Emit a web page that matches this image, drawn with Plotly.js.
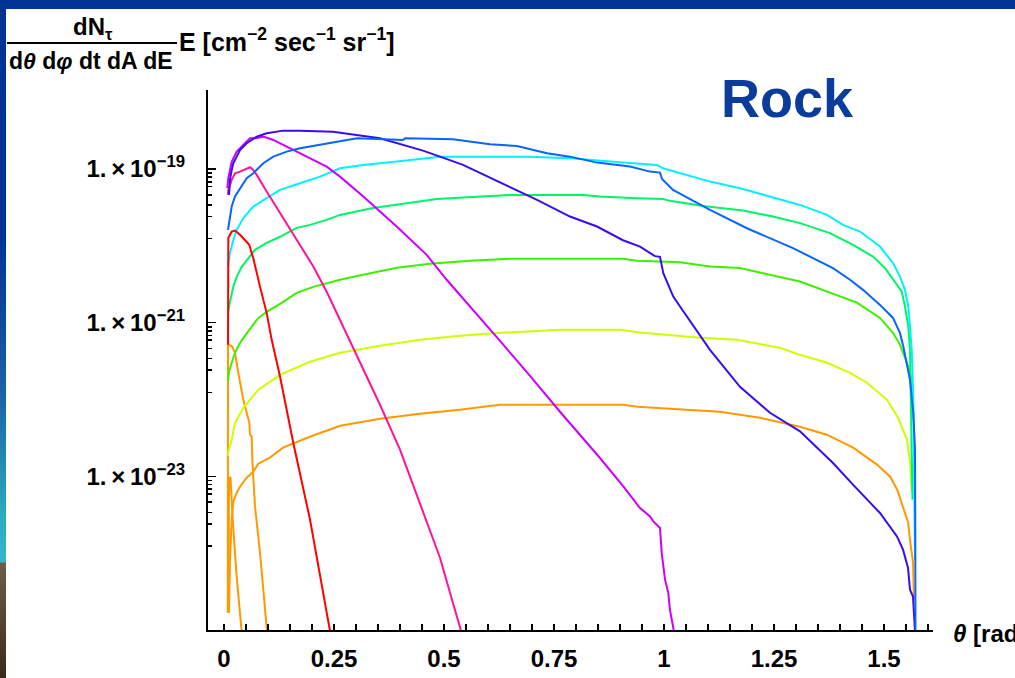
<!DOCTYPE html>
<html>
<head>
<meta charset="utf-8">
<script src="https://cdn.plot.ly/plotly-3.0.1.min.js"></script>
<style>
  html, body { margin: 0; padding: 0; background: #fff; overflow: hidden; }
  #frame { position: relative; width: 1015px; height: 678px; }
  #chart { position: absolute; left: 0; top: 0; width: 1015px; height: 678px; }
  .bar-top { position: absolute; left: 0; top: 0; width: 1015px; height: 9px; background: #003393; z-index: 5; }
  .bar-left { position: absolute; left: 0; top: 0; width: 6px; height: 678px; z-index: 5;
    background: linear-gradient(to bottom, #003393 0px, #003595 240px, #1a64aa 400px, #2aaec2 520px, #30b8c8 562px, #6e5e48 563px, #3a2a18 678px); }
</style>
</head>
<body>
<div id="frame">
  <div id="chart"></div>
  <div class="bar-top"></div>
  <div class="bar-left"></div>
</div>
<script>
// Tau flux through rock versus nadir angle, one curve per energy.
const thetaRed = [0.0091,0.0095,0.0098,0.0175,0.025,0.0364,0.0575,0.0607,0.0666,0.0818,0.097,0.1084,0.1273,0.1575,0.1955,0.2409];
const fluxRed  = [5.14e-22,3.61e-21,1.26e-20,1.53e-20,1.58e-20,1.39e-20,1.03e-20,8.85e-21,6.9e-21,2.94e-21,1.33e-21,5.97e-22,1.99e-22,2.71e-23,2.73e-24,9.7e-26];

const thetaPink = [0.0091,0.0098,0.0175,0.025,0.0364,0.0516,0.0591,0.0652,0.0743,0.097,0.1273,0.1652,0.203,0.2334,0.2636,0.3091,0.3545,0.4,0.4455,0.4909,0.5182,0.5386];
const fluxPink  = [4.59e-20,5.33e-20,7.19e-20,8.79e-20,9.23e-20,1.02e-19,1.052e-19,9.91e-20,8.36e-20,5.07e-20,2.65e-20,1.19e-20,5.37e-21,2.52e-21,1.09e-21,3.09e-22,8.53e-23,2.22e-23,4.28e-24,8.73e-25,2.48e-25,9.8e-26];

const thetaViolet = [0.0075,0.0098,0.0175,0.0289,0.0439,0.0591,0.0705,0.0893,0.1121,0.1425,0.188,0.2334,0.2636,0.3166,0.3925,0.4607,0.5061,0.5666,0.6273,0.6955,0.7636,0.8545,0.9075,0.9455,0.9682,0.9757,0.987,0.9909,0.9948,1.0023,1.0098,1.0136,1.0227];
const fluxViolet  = [5.61e-20,7.57e-20,1.233e-19,1.679e-19,2.051e-19,2.506e-19,2.506e-19,2.63e-19,2.382e-19,1.95e-19,1.445e-19,1.072e-19,7.94e-20,4.37e-20,1.78e-20,7.62e-21,3.61e-21,1.47e-21,5.79e-22,2.03e-22,6.92e-23,1.73e-23,7.4e-24,3.87e-24,3.01e-24,2.59e-24,2.23e-24,2.13e-24,1.01e-24,4.52e-25,3.03e-25,1.82e-25,9.5e-26];

const thetaIndigo = [0.0114,0.0136,0.0175,0.0211,0.0289,0.0364,0.0516,0.0743,0.097,0.1348,0.1727,0.2477,0.3545,0.4523,0.4909,0.5432,0.65,0.7114,0.7864,0.8477,0.9068,0.9455,0.9795,0.9909,0.9984,1.0211,1.0364,1.1045,1.1727,1.2409,1.3091,1.3841,1.4295,1.4909,1.5295,1.5432,1.5545,1.5591,1.5659,1.5689,1.5705];
const fluxIndigo  = [4.59e-20,7.19e-20,9.71e-20,1.186e-19,1.445e-19,1.766e-19,2.158e-19,2.63e-19,2.91e-19,3.15e-19,3.15e-19,3.05e-19,2.506e-19,1.73e-19,1.445e-19,1.127e-19,5.78e-20,3.95e-20,2.4e-20,1.78e-20,1.18e-20,9.77e-21,7.33e-21,7.18e-21,4.41e-21,2.18e-21,1.62e-21,4.43e-22,1.46e-22,6.71e-23,3.84e-23,1.49e-23,7.78e-24,3.33e-24,1.65e-24,1.11e-24,6.47e-25,3.35e-25,2.72e-25,1.36e-25,9.5e-26];

const thetaBlue = [0.0091,0.0136,0.0175,0.025,0.0364,0.0516,0.0666,0.0893,0.1121,0.1425,0.1727,0.2182,0.2636,0.3023,0.4068,0.4114,0.5205,0.6045,0.6659,0.7341,0.7864,0.8477,0.9227,0.9682,0.9909,0.9955,1.0205,1.1045,1.1886,1.2932,1.3841,1.4227,1.4523,1.4909,1.5205,1.5364,1.5439,1.5591,1.5666,1.5705,1.5711,1.5716];
const fluxBlue  = [1.61e-20,2.4e-20,3.24e-20,4.37e-20,5.61e-20,7.57e-20,8.79e-20,1.186e-19,1.445e-19,1.679e-19,1.858e-19,2.051e-19,2.265e-19,2.506e-19,2.382e-19,2.506e-19,2.432e-19,2.094e-19,1.99e-19,1.6e-19,1.445e-19,1.208e-19,1.072e-19,9.23e-20,8.95e-20,7.41e-20,5.33e-20,2.93e-20,1.69e-20,9.31e-21,5.12e-21,3.61e-21,2.67e-21,1.7e-21,1.15e-21,7.29e-22,4.89e-22,1.8e-22,6.71e-23,2.22e-23,1.5e-24,9e-26];

const thetaCyan = [0.0091,0.0136,0.0211,0.0289,0.0439,0.0666,0.097,0.1273,0.1727,0.2182,0.2636,0.3159,0.3932,0.4682,0.4909,0.6955,0.7864,0.9068,0.9841,0.9977,1.0523,1.1045,1.1727,1.2568,1.3091,1.3705,1.4068,1.4455,1.4909,1.5205,1.5364,1.5477,1.5552,1.5591,1.563,1.5666,1.5693,1.5705];
const fluxCyan  = [5.32e-21,8.09e-21,1.19e-20,1.61e-20,2.29e-20,3.24e-20,4.16e-20,5.33e-20,6.52e-20,7.94e-20,1.02e-19,1.127e-19,1.245e-19,1.377e-19,1.445e-19,1.445e-19,1.377e-19,1.208e-19,1.127e-19,1.02e-19,8.36e-20,6.84e-20,5.61e-20,4.16e-20,3.4e-20,2.52e-20,1.87e-20,1.53e-20,9.77e-21,5.94e-21,3.97e-21,2.67e-21,1.62e-21,8.89e-22,4.43e-22,9.9e-23,9.04e-24,8.22e-25];

const thetaSpring = [0.0098,0.0136,0.0211,0.0289,0.0402,0.0591,0.0705,0.097,0.1273,0.1652,0.1955,0.2334,0.2636,0.3386,0.4841,0.575,0.6545,0.8159,0.8545,0.9386,0.9977,1.0136,1.0886,1.1795,1.2477,1.3091,1.3773,1.4295,1.475,1.5023,1.5205,1.5402,1.5477,1.5552,1.5591,1.5625,1.5648];
const fluxSpring  = [1.38e-21,1.86e-21,2.92e-21,3.94e-21,5.32e-21,7.18e-21,8.85e-21,1.09e-20,1.31e-20,1.71e-20,1.87e-20,2.17e-20,2.52e-20,3.11e-20,4.07e-20,4.33e-20,4.59e-20,4.59e-20,4.37e-20,4.16e-20,4.07e-20,3.84e-20,3.3e-20,2.87e-20,2.4e-20,1.97e-20,1.46e-20,1.03e-20,7.24e-21,5.12e-21,3.61e-21,2.54e-21,1.62e-21,8.89e-22,4.43e-22,5.45e-23,4.97e-24];

const thetaGreen = [0.0091,0.0114,0.0175,0.025,0.0364,0.0516,0.0591,0.078,0.097,0.1348,0.1652,0.203,0.2636,0.3159,0.3932,0.4682,0.5591,0.65,0.9068,0.9386,1.0364,1.1045,1.1727,1.3091,1.3705,1.4386,1.4909,1.5205,1.5364,1.5523,1.5636,1.567];
const fluxGreen  = [1.7e-22,2.29e-22,3e-22,4.05e-22,5.46e-22,7.36e-22,8.3e-22,1.15e-21,1.38e-21,1.86e-21,2.44e-21,2.92e-21,3.61e-21,4.19e-21,5.16e-21,5.82e-21,6.37e-21,6.76e-21,6.76e-21,6.37e-21,6.08e-21,5.37e-21,5.12e-21,3.42e-21,2.54e-21,1.82e-21,1.15e-21,7.36e-22,5.14e-22,3e-22,1.8e-22,5.45e-23];

const thetaLime = [0.008,0.0098,0.0175,0.025,0.0439,0.0591,0.078,0.1273,0.1955,0.2636,0.3545,0.4455,0.5364,0.6273,0.7636,0.9,0.9455,1.0818,1.1659,1.2636,1.3091,1.3705,1.4227,1.4614,1.5068,1.5318,1.5523,1.5591,1.5636];
const fluxLime  = [1.85e-23,2.09e-23,2.99e-23,4.98e-23,7.8e-23,9.9e-23,1.34e-22,2.09e-22,3.09e-22,4.05e-22,4.99e-22,5.97e-22,6.73e-22,7.36e-22,8.05e-22,8.05e-22,7.43e-22,6.34e-22,5.97e-22,4.7e-22,3.81e-22,3e-22,2.22e-22,1.65e-22,9.9e-23,5.78e-23,2.99e-23,1.5e-23,6.12e-24];

const thetaOrange = [0.0114,0.0136,0.0175,0.0211,0.0289,0.0364,0.0516,0.0666,0.078,0.1045,0.134,0.195,0.264,0.355,0.445,0.536,0.627,0.764,0.907,0.939,1.127,1.218,1.309,1.37,1.43,1.484,1.514,1.53,1.543,1.555,1.559,1.566,1.568];
const fluxOrange  = [1.68e-25,8.22e-25,2.73e-24,4.68e-24,6.12e-24,7.33e-24,9.6e-24,1.15e-23,1.46e-23,1.75e-23,2.36e-23,3.27e-23,4.55e-23,5.61e-23,6.52e-23,7.35e-23,8.53e-23,8.53e-23,8.53e-23,8.04e-23,6.92e-23,5.78e-23,4.42e-23,3.48e-23,2.36e-23,1.42e-23,9.89e-24,6.7e-24,4.03e-24,2.49e-24,1.5e-24,7.52e-25,2.48e-25];

const thetaOrangeSteep = [0.0086,0.0091,0.0175,0.025,0.0325,0.0439,0.0575,0.0591,0.063,0.0643,0.0705,0.0818,0.0977];
const fluxOrangeSteep  = [1.68e-25,5.14e-22,4.99e-22,4.05e-22,2.22e-22,9.9e-23,4.98e-23,3.48e-23,3.27e-23,1.64e-23,4.03e-24,1.02e-24,9.7e-26];

const thetaOrangeLow = [0.0102,0.0114,0.0148,0.0205,0.0284,0.04];
const fluxOrangeLow  = [1.68e-25,9.6e-24,9.6e-24,2.35e-24,5.25e-25,9.7e-26];

const xTickVals = [0, 0.25, 0.5, 0.75, 1, 1.25, 1.5];
const xTickText = ['0', '0.25', '0.5', '0.75', '1', '1.25', '1.5'];
const yTickVals = [1e-19, 1e-21, 1e-23];
const yTickText = ['1.\u2009×\u200910<sup>−19</sup>', '1.\u2009×\u200910<sup>−21</sup>', '1.\u2009×\u200910<sup>−23</sup>'];
const yMinorFactors = [0.88, 0.78, 0.68, 0.59, 0.46, 0.34, 0.24, 0.124];

const yMinorVals = [];
yTickVals.forEach(v => yMinorFactors.forEach(f => yMinorVals.push(v * f)));

const series = [
  [thetaOrangeLow, fluxOrangeLow, '#ff9900'],
  [thetaOrangeSteep, fluxOrangeSteep, '#ff9900'],
  [thetaOrange, fluxOrange, '#ff9900'],
  [thetaLime, fluxLime, '#ccff00'],
  [thetaGreen, fluxGreen, '#3cf000'],
  [thetaSpring, fluxSpring, '#00f566'],
  [thetaCyan, fluxCyan, '#00f2ff'],
  [thetaRed, fluxRed, '#ff0000'],
  [thetaPink, fluxPink, '#ff1499'],
  [thetaViolet, fluxViolet, '#cc00ff'],
  [thetaIndigo, fluxIndigo, '#3a0cf0'],
  [thetaBlue, fluxBlue, '#0a64ff']
];

const traces = series.map(([x, y, c]) => ({
  type: 'scatter', mode: 'lines', x: x, y: y,
  line: { color: c, width: 2 }, hoverinfo: 'skip', showlegend: false
}));

// plot-area geometry in pixels, used to place the free text around it
const L = 208, T = 90, W = 725, H = 540;
const px = v => (v - L) / W;
const py = v => 1 - (v - T) / H;

const textFont = { family: 'Liberation Sans, Arial, sans-serif', color: '#000', weight: 700 };

const layout = {
  width: 1015, height: 678,
  margin: { l: L, r: 1015 - L - W, t: T, b: 678 - T - H, pad: 0 },
  paper_bgcolor: '#fff', plot_bgcolor: '#fff',
  showlegend: false,
  xaxis: {
    range: [(208 - 224) / 440, (933 - 224) / 440],
    tickmode: 'array', tickvals: xTickVals, ticktext: xTickText,
    ticks: 'inside', ticklen: 6, tickwidth: 1.5, tickcolor: '#000',
    minor: { tickmode: 'linear', tick0: 0, dtick: 0.05, ticks: 'inside', ticklen: 6, tickwidth: 1.5, tickcolor: '#000' },
    showline: true, linecolor: '#000', linewidth: 2,
    showgrid: false, zeroline: false,
    ticklabelstandoff: 6,
    tickfont: Object.assign({ size: 24 }, textFont)
  },
  yaxis: {
    type: 'log',
    range: [-25, -17.973],
    tickmode: 'array', tickvals: yTickVals, ticktext: yTickText,
    ticks: 'inside', ticklen: 8, tickwidth: 1.5, tickcolor: '#000',
    minor: { tickmode: 'array', tickvals: yMinorVals, ticks: 'inside', ticklen: 4, tickwidth: 1.5, tickcolor: '#000' },
    showline: true, linecolor: '#000', linewidth: 2,
    showgrid: false, zeroline: false,
    ticklabelstandoff: 16,
    tickfont: Object.assign({ size: 24 }, textFont)
  },
  shapes: [
    { type: 'line', xref: 'paper', yref: 'paper', x0: px(7), x1: px(177), y0: py(43), y1: py(43),
      line: { color: '#000', width: 2 } }
  ],
  annotations: [
    { text: 'dN<sub>τ</sub>', xref: 'paper', yref: 'paper', x: px(93), y: py(28),
      xanchor: 'center', yanchor: 'middle', showarrow: false, font: Object.assign({ size: 24 }, textFont) },
    { text: 'd<i>θ</i> d<i>φ</i> dt dA dE', xref: 'paper', yref: 'paper', x: px(91), y: py(61),
      xanchor: 'center', yanchor: 'middle', showarrow: false, font: Object.assign({ size: 23 }, textFont) },
    { text: 'E [cm<sup>−2</sup> sec<sup>−1</sup> sr<sup>−1</sup>]', xref: 'paper', yref: 'paper', x: px(177), y: py(40),
      xanchor: 'left', yanchor: 'middle', showarrow: false, font: Object.assign({ size: 25 }, textFont) },
    { text: '<i>θ</i> [rad]', xref: 'paper', yref: 'paper', x: px(951), y: py(633),
      xanchor: 'left', yanchor: 'middle', showarrow: false, font: Object.assign({ size: 24 }, textFont) },
    { text: 'Rock', xref: 'paper', yref: 'paper', x: px(787), y: py(98),
      xanchor: 'center', yanchor: 'middle', showarrow: false,
      font: { family: 'Liberation Sans, Arial, sans-serif', size: 54, color: '#0a3c9c', weight: 700 } }
  ]
};

Plotly.newPlot('chart', traces, layout, { staticPlot: true, displayModeBar: false });
</script>
</body>
</html>
